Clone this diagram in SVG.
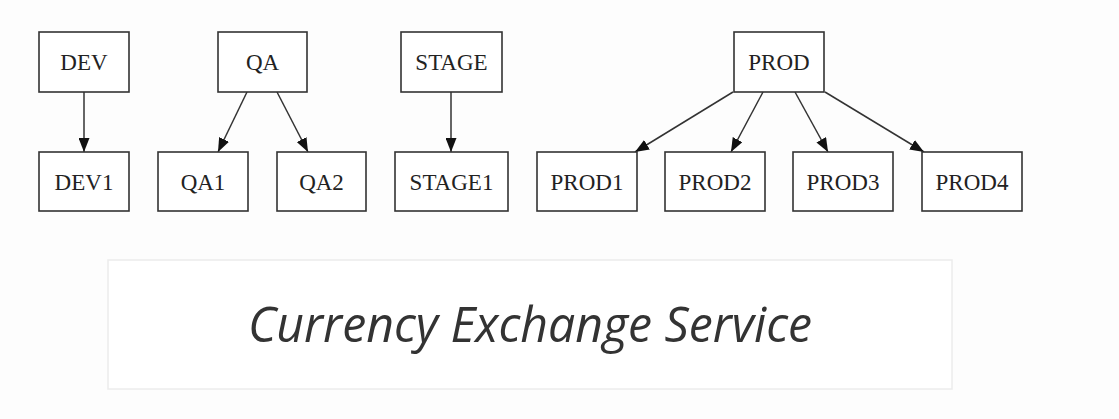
<svg xmlns="http://www.w3.org/2000/svg" width="1119" height="419" viewBox="0 0 1119 419">
  <style>
    .node rect { fill: #ffffff; stroke: #333333; stroke-width: 1.6; }
    .node text { font-family: "Liberation Serif", "Times New Roman", serif; font-size: 23px; fill: #222222; text-anchor: middle; }
    .edge { stroke: #333333; stroke-width: 1.5; fill: none; marker-end: url(#arrow); }
    .title { font-family: "Open Sans", "Noto Sans", sans-serif; font-style: italic; font-size: 50px; fill: #333333; text-anchor: middle; }
  </style>
  <defs>
    <marker id="arrow" viewBox="0 0 14 11" refX="14" refY="5.5" markerWidth="14" markerHeight="11" markerUnits="userSpaceOnUse" orient="auto">
      <path d="M0,0 L14,5.5 L0,11 Z" fill="#111111"/>
    </marker>
  </defs>
  <rect x="0" y="0" width="1119" height="419" fill="#fdfdfd"/>

  <!-- connectors -->
  <g id="edges">
    <line class="edge" x1="84" y1="92" x2="84" y2="152"/>
    <line class="edge" x1="247" y1="92" x2="218" y2="152"/>
    <line class="edge" x1="277" y1="92" x2="308" y2="152"/>
    <line class="edge" x1="451" y1="92" x2="451" y2="152"/>
    <line class="edge" x1="733" y1="92" x2="635" y2="152"/>
    <line class="edge" x1="763" y1="92" x2="731" y2="152"/>
    <line class="edge" x1="795" y1="92" x2="828" y2="152"/>
    <line class="edge" x1="825" y1="92" x2="924" y2="152"/>
  </g>

  <!-- parent nodes -->
  <g id="dev" class="node"><rect x="39" y="32" width="90" height="60"/><text x="84" y="70">DEV</text></g>
  <g id="qa" class="node"><rect x="218" y="32" width="89" height="60"/><text x="262.5" y="70">QA</text></g>
  <g id="stage" class="node"><rect x="401" y="32" width="101" height="60"/><text x="451.5" y="70">STAGE</text></g>
  <g id="prod" class="node"><rect x="734" y="32" width="90" height="60"/><text x="779" y="70">PROD</text></g>

  <!-- child nodes -->
  <g id="dev1" class="node"><rect x="39" y="152" width="90" height="59"/><text x="84" y="190">DEV1</text></g>
  <g id="qa1" class="node"><rect x="158" y="152" width="90" height="59"/><text x="203" y="190">QA1</text></g>
  <g id="qa2" class="node"><rect x="277" y="152" width="89" height="59"/><text x="321.5" y="190">QA2</text></g>
  <g id="stage1" class="node"><rect x="395" y="152" width="113" height="59"/><text x="451.5" y="190">STAGE1</text></g>
  <g id="prod1" class="node"><rect x="537" y="152" width="100" height="59"/><text x="587" y="190">PROD1</text></g>
  <g id="prod2" class="node"><rect x="665" y="152" width="100" height="59"/><text x="715" y="190">PROD2</text></g>
  <g id="prod3" class="node"><rect x="793" y="152" width="100" height="59"/><text x="843" y="190">PROD3</text></g>
  <g id="prod4" class="node"><rect x="922" y="152" width="100" height="59"/><text x="972" y="190">PROD4</text></g>

  <!-- caption panel -->
  <g id="caption">
    <rect x="108" y="260" width="844" height="129" fill="#ffffff" stroke="#ececec" stroke-width="1.5"/>
    <text class="title" x="530" y="342" textLength="564" lengthAdjust="spacingAndGlyphs">Currency Exchange Service</text>
  </g>
</svg>
